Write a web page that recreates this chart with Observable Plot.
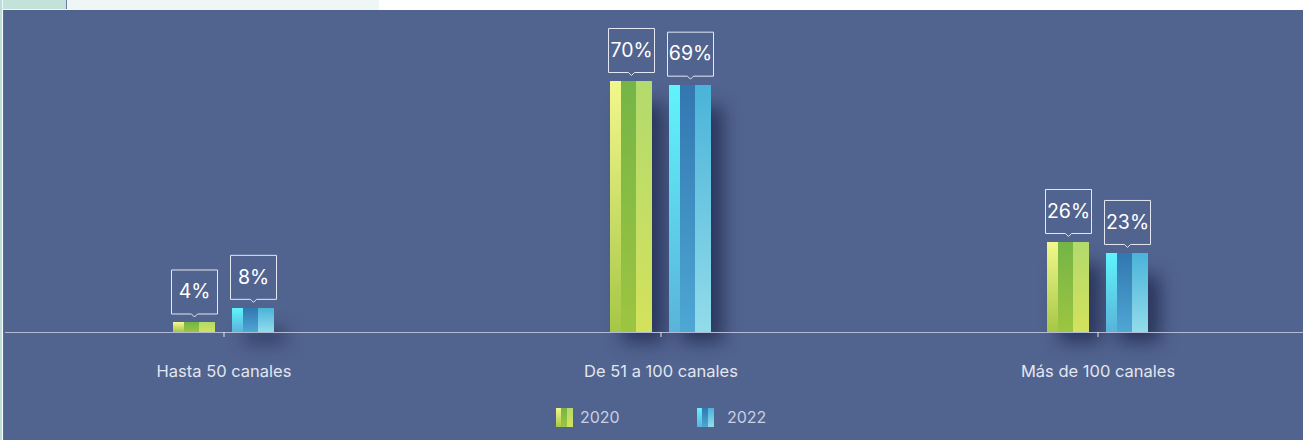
<!DOCTYPE html>
<html>
<head>
<meta charset="utf-8">
<script src="https://cdn.jsdelivr.net/npm/d3@7"></script>
<script src="https://cdn.jsdelivr.net/npm/@observablehq/plot@0.6"></script>
<style>
  html, body { margin: 0; padding: 0; background: #ffffff; width: 1303px; height: 440px; overflow: hidden; font-family: Inter, "Open Sans", sans-serif; }
  #topstrip { position: absolute; left: 0; top: 0; width: 379px; height: 10px; background: #eff6f6; }
  #tab { position: absolute; left: 3px; top: 0; width: 63px; height: 9px; background: #c2e2da; border-right: 1px solid #6d7aa5; }
  #leftstrip { position: absolute; left: 0; top: 0; width: 2px; height: 440px; background: #b9dedb; }
  #panel { position: absolute; left: 3px; top: 10px; width: 1300px; height: 430px; background: #51638f; border-left: 1px solid #5a6b9a; box-sizing: border-box; }
  #chart { position: absolute; left: -1px; top: 0; }
  .leg { position: absolute; top: 397px; display: flex; align-items: center; color: #c9cfe2; font-size: 16px; }
  .leg svg { display: block; }
</style>
</head>
<body>
<div id="topstrip"></div>
<div id="tab"></div>
<div id="leftstrip"></div>
<div id="panel">
  <div id="chart"></div>
  <div class="leg" id="leg2020" style="left:552px"></div>
  <div class="leg" id="leg2022" style="left:693px"></div>
</div>
<script>
// ---- data ----
const categories = ["Hasta 50 canales", "De 51 a 100 canales", "Más de 100 canales"];
const years = ["2020", "2022"];
const values2020 = [4, 70, 26];
const values2022 = [8, 69, 23];

const rows2020 = categories.map((c, i) => ({cat: c, year: years[0], value: values2020[i]}));
const rows2022 = categories.map((c, i) => ({cat: c, year: years[1], value: values2022[i]}));
const rows = rows2020.concat(rows2022);

// ---- gradients ----
const gradients = {
  g20a: ["#f3f78c", "#a6c746"],
  g20b: ["#74b546", "#9dc541"],
  g20c: ["#b3da6d", "#d3e25c"],
  g22a: ["#60f4fc", "#5ab3da"],
  g22b: ["#3277b0", "#4ea7d4"],
  g22c: ["#4ab3d9", "#92dcea"]
};
function makeDefs(prefix) {
  const ns = "http://www.w3.org/2000/svg";
  const defs = document.createElementNS(ns, "defs");
  for (const [id, [c0, c1]] of Object.entries(gradients)) {
    const lg = document.createElementNS(ns, "linearGradient");
    lg.setAttribute("id", prefix + id);
    lg.setAttribute("x1", "0"); lg.setAttribute("y1", "0");
    lg.setAttribute("x2", "0"); lg.setAttribute("y2", "1");
    [[0, c0], [1, c1]].forEach(([o, c]) => {
      const s = document.createElementNS(ns, "stop");
      s.setAttribute("offset", o);
      s.setAttribute("stop-color", c);
      lg.appendChild(s);
    });
    defs.appendChild(lg);
  }
  return defs;
}

// callout box symbol (box above the point, small pointer below)
const callout = {
  draw(ctx) {
    ctx.moveTo(0, -6);
    ctx.lineTo(3, -9);
    ctx.lineTo(23, -9);
    ctx.lineTo(23, -53);
    ctx.lineTo(-23, -53);
    ctx.lineTo(-23, -9);
    ctx.lineTo(-3, -9);
    ctx.closePath();
  }
};

const stripes = [
  {key: "a", insetLeft: 0, insetRight: 31},
  {key: "b", insetLeft: 11, insetRight: 16},
  {key: "c", insetLeft: 26, insetRight: 0}
];

function barMarks(data, yr) {
  return stripes.map(s => Plot.barY(data, {
    fx: "cat", x: "year", y: "value",
    fill: `url(#g${yr}${s.key})`,
    insetLeft: s.insetLeft, insetRight: s.insetRight,
    shapeRendering: "crispEdges"
  }));
}

const plot = Plot.plot({
  width: 1300,
  height: 390,
  marginTop: 0,
  marginLeft: 0,
  marginRight: 0,
  marginBottom: 68,
  style: {background: "transparent", fontFamily: "Inter, 'Open Sans', sans-serif", overflow: "visible"},
  fx: {domain: categories, range: [2, 1313], padding: 0, round: false},
  x: {domain: years, range: [168, 269], paddingInner: 17 / 59, paddingOuter: 0, round: false, axis: null},
  y: {domain: [1.4, 70], range: [322, 71], clamp: true, axis: null},
  marks: [
    Plot.barY(rows, {fx: "cat", x: "year", y: "value", fill: "#1a2247", fillOpacity: 0.7, dx: 12, dy: 10, insetTop: 12, imageFilter: "blur(9px)"}),
    ...barMarks(rows2020, "20"),
    ...barMarks(rows2022, "22"),
    Plot.ruleY([0], {stroke: "#b2bad4", strokeWidth: 1.2}),
    Plot.axisFx({anchor: "bottom", tickSize: 5, tickPadding: 28, fontSize: 16.5, color: "#e2e6ef", label: null}),
    Plot.dot(rows, {fx: "cat", x: "year", y: "value", symbol: callout, stroke: "#e3e7f1", strokeWidth: 1, fill: "none"}),
    Plot.text(rows, {fx: "cat", x: "year", y: "value", text: d => d.value + "%", dy: -31, fill: "#ffffff", fontSize: 19.5})
  ]
});
plot.insertBefore(makeDefs(""), plot.firstChild);
document.getElementById("chart").appendChild(plot);

// ---- legend ----
function swatch(yr) {
  const ns = "http://www.w3.org/2000/svg";
  const svg = document.createElementNS(ns, "svg");
  svg.setAttribute("width", 17); svg.setAttribute("height", 19);
  svg.appendChild(makeDefs("leg" + yr));
  [[0, 5, "a"], [5, 6, "b"], [11, 6, "c"]].forEach(([x, w, k]) => {
    const r = document.createElementNS(ns, "rect");
    r.setAttribute("x", x); r.setAttribute("y", 0);
    r.setAttribute("width", w); r.setAttribute("height", 19);
    r.setAttribute("fill", `url(#leg${yr}g${yr}${k})`);
    r.setAttribute("shape-rendering", "crispEdges");
    svg.appendChild(r);
  });
  return svg;
}
[["leg2020", "20", years[0], 7], ["leg2022", "22", years[1], 13]].forEach(([id, yr, label, gap]) => {
  const el = document.getElementById(id);
  el.appendChild(swatch(yr));
  const span = document.createElement("span");
  span.textContent = label;
  span.style.marginLeft = gap + "px";
  el.appendChild(span);
});
</script>
</body>
</html>
